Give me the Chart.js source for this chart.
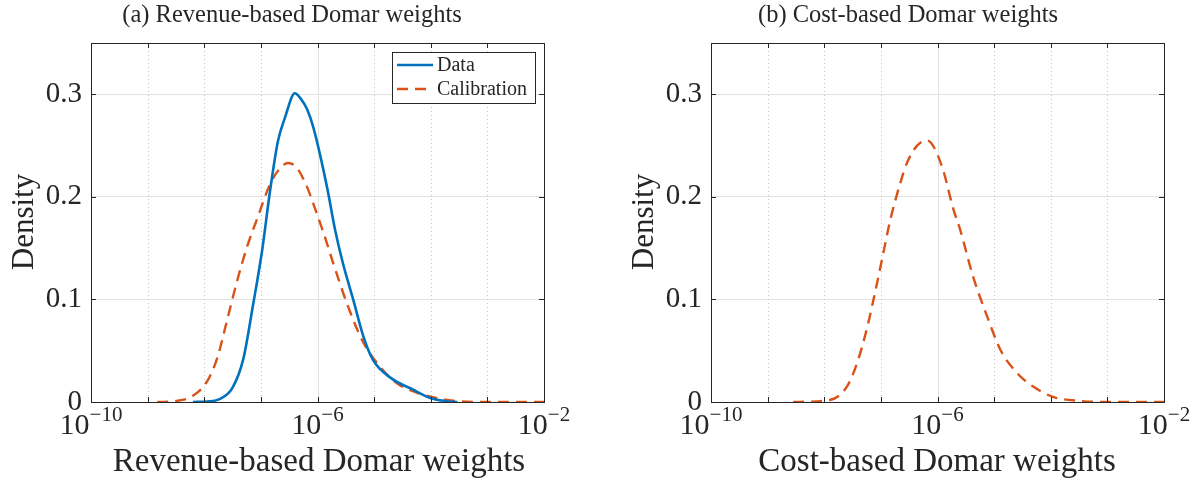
<!DOCTYPE html>
<html>
<head>
<meta charset="utf-8">
<script src="https://cdn.jsdelivr.net/npm/chart.js@4.4.1/dist/chart.umd.min.js"></script>
<style>
  html, body { margin: 0; padding: 0; background: #fff; }
  #wrap { position: relative; width: 1199px; height: 479px; }
  .panel { position: absolute; top: 0; height: 479px; }
</style>
</head>
<body>
<div id="wrap">
  <div class="panel" style="left:0;width:620px"><canvas id="revChart" width="620" height="479"></canvas></div>
  <div class="panel" style="left:620px;width:579px"><canvas id="costChart" width="579" height="479"></canvas></div>
</div>
<script>
// ---- data (x given as log10 of the Domar weight) ----
const revDataLogX = [-8.2, -7.95, -7.72, -7.5, -7.31, -7.14, -6.98, -6.84, -6.7, -6.57, -6.4, -6.3, -6.18, -6.07, -5.83, -5.69, -5.55, -5.37, -5.19, -5.02, -4.72, -4.31, -4.01, -3.75, -3.53];
const revDataY    = [0, 0.0005, 0.003, 0.014, 0.042, 0.094, 0.147, 0.205, 0.254, 0.278, 0.301, 0.296, 0.285, 0.267, 0.209, 0.168, 0.135, 0.1, 0.064, 0.041, 0.024, 0.012, 0.004, 0.001, 0];

const revCalLogX = [-8.83, -8.5, -8.2, -7.95, -7.77, -7.6, -7.42, -7.24, -7.07, -6.84, -6.66, -6.52, -6.36, -6.18, -6.04, -5.9, -5.72, -5.48, -5.19, -4.89, -4.59, -4.24, -3.71, -3.13, -2];
const revCalY    = [0, 0.001, 0.006, 0.02, 0.043, 0.079, 0.118, 0.152, 0.178, 0.212, 0.228, 0.233, 0.228, 0.209, 0.188, 0.166, 0.135, 0.096, 0.058, 0.034, 0.018, 0.009, 0.002, 0, 0];

const costCalLogX = [-8.55, -7.9, -7.6, -7.42, -7.24, -7.13, -6.98, -6.84, -6.66, -6.54, -6.36, -6.18, -6.08, -5.9, -5.72, -5.6, -5.37, -5.12, -4.89, -4.59, -4.31, -3.96, -3.48, -3.0, -2];
const costCalY    = [0, 0.002, 0.015, 0.038, 0.073, 0.1, 0.139, 0.176, 0.213, 0.233, 0.25, 0.255, 0.25, 0.226, 0.188, 0.168, 0.122, 0.083, 0.051, 0.028, 0.015, 0.005, 0.001, 0, 0];

const xDecades    = [-10, -9, -8, -7, -6, -5, -4, -3, -2];
const xMajorTicks = [-10, -6, -2];
const yTicks      = [0, 0.1, 0.2, 0.3];

const BLUE = '#0072BD';
const ORANGE = '#D95319';
const AXIS = '#262626';
const SERIF = '"Liberation Serif", "DejaVu Serif", serif';

function toPoints(logX, ys) {
    return logX.map((e, i) => ({ x: Math.pow(10, e), y: ys[i] }));
}

// ========================================
// Frame, grid, labels drawn on top of the chart
// ========================================
function framePlugin(opts) {
    return {
        id: 'matlabFrame',
        beforeDatasetsDraw(chart) {
            const ctx = chart.ctx, a = chart.chartArea, xs = chart.scales.x;
            ctx.save();
            xDecades.forEach(e => {
                const px = Math.round(xs.getPixelForValue(Math.pow(10, e))) + 0.5;
                if (e === -10 || e === -2) return;
                ctx.beginPath();
                if (xMajorTicks.includes(e)) {
                    ctx.strokeStyle = '#e2e2e2';
                    ctx.setLineDash([]);
                } else {
                    ctx.strokeStyle = '#c4c4c4';
                    ctx.setLineDash([1, 3]);
                }
                ctx.lineWidth = 1;
                ctx.moveTo(px, a.top);
                ctx.lineTo(px, a.bottom);
                ctx.stroke();
            });
            ctx.restore();
        },
        afterDatasetsDraw(chart) {
            const ctx = chart.ctx, a = chart.chartArea, xs = chart.scales.x, ys = chart.scales.y;
            ctx.save();
            // box
            ctx.strokeStyle = AXIS;
            ctx.lineWidth = 1;
            ctx.setLineDash([]);
            ctx.strokeRect(Math.round(a.left) + 0.5, Math.round(a.top) + 0.5,
                Math.round(a.right - a.left), Math.round(a.bottom - a.top));
            // inward ticks
            ctx.beginPath();
            xDecades.forEach(e => {
                const px = Math.round(xs.getPixelForValue(Math.pow(10, e))) + 0.5;
                ctx.moveTo(px, a.bottom); ctx.lineTo(px, a.bottom - 5);
                ctx.moveTo(px, a.top); ctx.lineTo(px, a.top + 5);
            });
            yTicks.forEach(v => {
                const py = Math.round(ys.getPixelForValue(v)) + 0.5;
                ctx.moveTo(a.left, py); ctx.lineTo(a.left + 5, py);
                ctx.moveTo(a.right, py); ctx.lineTo(a.right - 5, py);
            });
            ctx.stroke();

            // x tick labels 10^e
            ctx.fillStyle = AXIS;
            ctx.textBaseline = 'alphabetic';
            ctx.textAlign = 'left';
            xMajorTicks.forEach(e => {
                const px = xs.getPixelForValue(Math.pow(10, e));
                const base = '10', sup = '\u2212' + Math.abs(e);
                ctx.font = '30px ' + SERIF;
                const wb = ctx.measureText(base).width;
                ctx.font = '21px ' + SERIF;
                const ws = ctx.measureText(sup).width;
                const x0 = px - (wb + ws) / 2;
                ctx.font = '30px ' + SERIF;
                ctx.fillText(base, x0, 434);
                ctx.font = '21px ' + SERIF;
                ctx.fillText(sup, x0 + wb, 421);
            });

            // legend
            if (opts.legend) {
                const lx = 392, ly = 52, lw = 143, lh = 51;
                ctx.fillStyle = '#fff';
                ctx.fillRect(lx, ly, lw, lh);
                ctx.strokeStyle = AXIS;
                ctx.strokeRect(lx + 0.5, ly + 0.5, lw, lh);
                chart.data.datasets.forEach((ds, i) => {
                    const y = 65 + i * 24;
                    ctx.beginPath();
                    ctx.strokeStyle = ds.borderColor;
                    ctx.lineWidth = 2.4;
                    ctx.setLineDash(ds.borderDash || []);
                    ctx.moveTo(397, y);
                    ctx.lineTo(433, y);
                    ctx.stroke();
                    ctx.setLineDash([]);
                    ctx.fillStyle = AXIS;
                    ctx.font = '20px ' + SERIF;
                    ctx.textBaseline = 'middle';
                    ctx.fillText(ds.label, 437, y + 1);
                });
            }
            ctx.restore();
        },
        afterDraw(chart) {
            const ctx = chart.ctx;
            ctx.save();
            ctx.fillStyle = AXIS;
            ctx.textBaseline = 'alphabetic';
            ctx.textAlign = 'center';
            ctx.font = '24.5px ' + SERIF;
            ctx.fillText(opts.title, opts.titleX, 22);
            ctx.font = '33px ' + SERIF;
            ctx.fillText(opts.xTitle, opts.xTitleX, 471);
            ctx.font = '31px ' + SERIF;
            ctx.translate(33, 222);
            ctx.rotate(-Math.PI / 2);
            ctx.fillText('Density', 0, 0);
            ctx.restore();
        }
    };
}

function makeChart(canvasId, datasets, opts) {
    const canvas = document.getElementById(canvasId);
    return new Chart(canvas, {
        type: 'line',
        data: { datasets: datasets },
        options: {
            responsive: false,
            animation: false,
            devicePixelRatio: 1,
            layout: { padding: { top: 43, bottom: 77, left: 0, right: canvas.width - 544 } },
            elements: {
                point: { radius: 0 },
                line: { cubicInterpolationMode: 'monotone', borderWidth: 2.4 }
            },
            plugins: { legend: { display: false }, tooltip: { enabled: false }, title: { display: false } },
            scales: {
                x: {
                    type: 'logarithmic',
                    min: 1e-10,
                    max: 1e-2,
                    display: false
                },
                y: {
                    type: 'linear',
                    min: 0,
                    max: 0.35,
                    afterBuildTicks: s => { s.ticks = yTicks.map(v => ({ value: v })); },
                    afterFit: s => { s.width = 91; },
                    border: { display: false },
                    grid: { color: '#e2e2e2', drawTicks: false, lineWidth: 1 },
                    ticks: {
                        padding: 9,
                        color: AXIS,
                        font: { family: SERIF, size: 29 },
                        callback: v => (v === 0 ? '0' : v.toFixed(1))
                    }
                }
            }
        },
        plugins: [framePlugin(opts)]
    });
}

makeChart('revChart', [
    { label: 'Data', data: toPoints(revDataLogX, revDataY), borderColor: BLUE, borderWidth: 2.6 },
    { label: 'Calibration', data: toPoints(revCalLogX, revCalY), borderColor: ORANGE, borderDash: [11, 7] }
], { title: '(a) Revenue-based Domar weights', titleX: 292, xTitle: 'Revenue-based Domar weights', xTitleX: 319, legend: true });

makeChart('costChart', [
    { label: 'Calibration', data: toPoints(costCalLogX, costCalY), borderColor: ORANGE, borderDash: [11, 7] }
], { title: '(b) Cost-based Domar weights', titleX: 288, xTitle: 'Cost-based Domar weights', xTitleX: 317, legend: false });
</script>
</body>
</html>
